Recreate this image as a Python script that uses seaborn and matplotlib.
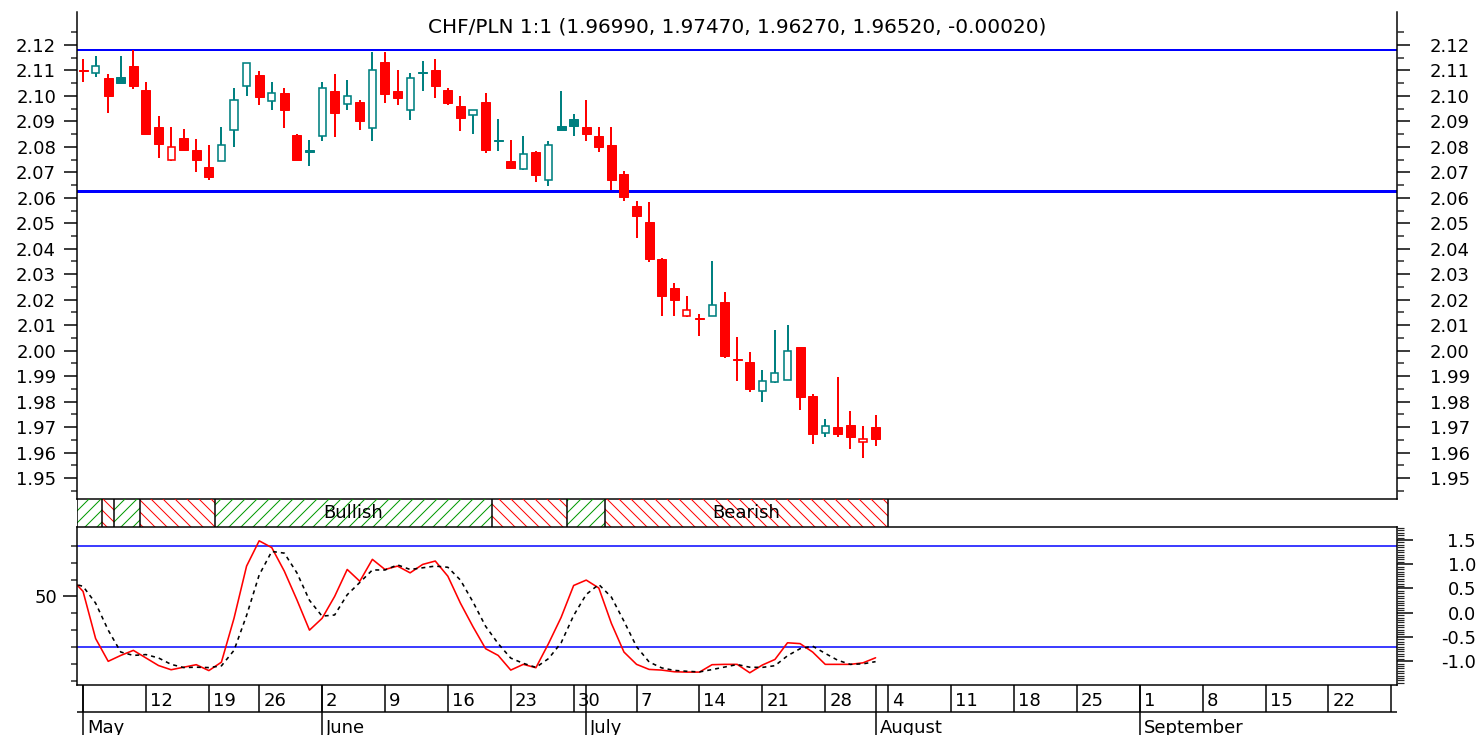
import numpy as np
import pandas as pd
import matplotlib
matplotlib.use("Agg")
import matplotlib.pyplot as plt
import matplotlib.ticker as mticker
from matplotlib.patches import Rectangle
from matplotlib.transforms import offset_copy
import seaborn as sns

# daily candles, day 0 = Monday 5 May (trading days only)
open_ = [2.1102, 2.1089, 2.1070, 2.1076, 2.1119, 2.1025, 2.0877, 2.0750, 2.0835, 2.0788,
         2.0722, 2.0746, 2.0866, 2.1040, 2.1083, 2.0981, 2.1010, 2.0848, 2.0786, 2.0844,
         2.1018, 2.0968, 2.0975, 2.0873, 2.1132, 2.1018, 2.0946, 2.1095, 2.1103, 2.1025,
         2.0962, 2.0926, 2.0977, 2.0826, 2.0746, 2.0713, 2.0781, 2.0671, 2.0881, 2.0909,
         2.0877, 2.0841, 2.0809, 2.0694, 2.0567, 2.0506, 2.0360, 2.0244, 2.0137, 2.0129,
         2.0137, 2.0190, 1.9966, 1.9954, 1.9843, 1.9876, 1.9886, 2.0013, 1.9821, 1.9677,
         1.9699, 1.9709, 1.9640, 1.9699]
high = [2.1145, 2.1158, 2.1086, 2.1158, 2.1180, 2.1056, 2.0922, 2.0877, 2.0870, 2.0831,
        2.0807, 2.0877, 2.1030, 2.1131, 2.1097, 2.1056, 2.1030, 2.0850, 2.0828, 2.1056,
        2.1086, 2.1064, 2.0984, 2.1171, 2.1171, 2.1103, 2.1090, 2.1136, 2.1145, 2.1030,
        2.0999, 2.0946, 2.1012, 2.0909, 2.0828, 2.0841, 2.0783, 2.0822, 2.1018, 2.0929,
        2.0984, 2.0877, 2.0877, 2.0707, 2.0586, 2.0582, 2.0362, 2.0264, 2.0216, 2.0144,
        2.0351, 2.0229, 2.0055, 1.9993, 1.9925, 2.0082, 2.0102, 2.0015, 1.9830, 1.9732,
        1.9895, 1.9764, 1.9706, 1.9747]
low = [2.1054, 2.1073, 2.0933, 2.1050, 2.1027, 2.0848, 2.0756, 2.0743, 2.0785, 2.0703,
       2.0670, 2.0744, 2.0798, 2.1001, 2.0966, 2.0946, 2.0873, 2.0747, 2.0726, 2.0824,
       2.0838, 2.0946, 2.0867, 2.0824, 2.0972, 2.0966, 2.0907, 2.1021, 2.0992, 2.0966,
       2.0864, 2.0851, 2.0776, 2.0785, 2.0715, 2.0711, 2.0663, 2.0645, 2.0863, 2.0844,
       2.0824, 2.0781, 2.0632, 2.0589, 2.0441, 2.0347, 2.0137, 2.0137, 2.0131, 2.0056,
       2.0135, 1.9973, 1.9882, 1.9836, 1.9797, 1.9874, 1.9884, 1.9768, 1.9633, 1.9660,
       1.9660, 1.9614, 1.9578, 1.9627]
close = [2.1098, 2.1116, 2.1001, 2.1050, 2.1040, 2.0851, 2.0811, 2.0801, 2.0789, 2.0750,
         2.0683, 2.0807, 2.0984, 2.1129, 2.0995, 2.1010, 2.0946, 2.0750, 2.0781, 2.1030,
         2.0933, 2.1001, 2.0900, 2.1103, 2.1008, 2.0992, 2.1069, 2.1091, 2.1040, 2.0972,
         2.0912, 2.0944, 2.0789, 2.0822, 2.0717, 2.0772, 2.0690, 2.0807, 2.0866, 2.0881,
         2.0851, 2.0798, 2.0671, 2.0602, 2.0527, 2.0360, 2.0213, 2.0199, 2.0161, 2.0126,
         2.0180, 1.9977, 1.9962, 1.9849, 1.9880, 1.9911, 1.9999, 1.9817, 1.9673, 1.9706,
         1.9673, 1.9660, 1.9654, 1.9652]
prev_close_start = 2.1105

# horizontal lines on the price panel
resistance = 2.1182
support = 2.0625

# stochastic, first value is the day before day 0
stoch_k = [61, 53, 25, 11.5, 15, 18, 13.5, 9, 6.5, 8, 9.5, 6, 11, 37, 68, 83, 79, 65, 48, 30,
           37, 50, 66, 59, 72, 66, 68, 64, 69, 71, 62, 46, 32, 19, 15, 6.3, 9.7, 7.7, 22, 37.5,
           56.5, 59.7, 55, 34, 17, 9.7, 6.7, 6.3, 5.3, 5.1, 5.1, 9.5, 9.7, 9.7, 4.7, 9.3, 12.6,
           22.5, 22, 17, 9.7, 9.7, 9.7, 10.6, 13.6]
stoch_d = [58, 56, 46, 30, 17, 15, 15.5, 13.5, 9.7, 7.8, 8, 7.8, 8.8, 18, 38.7, 62.7, 76.7,
           75.7, 64, 47.7, 38.3, 39, 51, 58.3, 65.7, 65.7, 68.7, 66, 67, 68, 67.3, 59.7, 46.7,
           32.3, 22, 13.4, 10.3, 7.9, 13.1, 22.4, 38.7, 51.2, 57.1, 49.6, 35.3, 20.2, 11.1, 7.6,
           6.1, 5.6, 5.2, 6.6, 8.1, 9.6, 8, 7.9, 8.9, 14.8, 19, 20.5, 16.2, 12.1, 9.7, 10, 11.3]
stoch_levels = [80, 20]

# trend band (edges in trading days)
band_edges = [-0.48, 1.5, 2.5, 4.5, 10.5, 32.5, 38.5, 41.5, 64.0]
band_trend = ["Bullish", "Bearish", "Bullish", "Bearish", "Bullish", "Bearish", "Bullish", "Bearish"]

# axis ticks
price_ticks = [1.95, 1.96, 1.97, 1.98, 1.99, 2.00, 2.01, 2.02, 2.03, 2.04, 2.05,
               2.06, 2.07, 2.08, 2.09, 2.10, 2.11, 2.12]
osc_right_ticks = [-1.0, -0.5, 0.0, 0.5, 1.0, 1.5]
week_start = [0, 5, 10, 14, 19, 24, 29, 34, 39, 44, 49, 54, 59, 64, 69, 74, 79, 84, 89, 94, 99, 104]
week_labels = ["", "12", "19", "26", "2", "9", "16", "23", "30", "7", "14", "21", "28",
               "4", "11", "18", "25", "1", "8", "15", "22", "29"]
month_start = [0, 19, 40, 63, 84]
month_labels = ["May", "June", "July", "August", "September"]

RED = "#FF0000"
TEAL = "#008080"
BLUE = "#0000FF"
GREEN = "#009900"

sns.set_theme(style="white")
plt.rcParams["font.family"] = ["DejaVu Sans"]
plt.rcParams["text.color"] = "black"
plt.rcParams["axes.unicode_minus"] = False
plt.rcParams["hatch.linewidth"] = 1.0

W, H, DPI = 1480, 735, 72
fig = plt.figure(figsize=(W / DPI, H / DPI), dpi=DPI, facecolor="white")


def px_axes(x0, y0, x1, y1):
    return fig.add_axes([x0 / W, 1 - y1 / H, (x1 - x0) / W, (y1 - y0) / H])


XLIM = (-0.48, 104.45)
FS = 18

### price panel
ax = px_axes(77, 12, 1397, 499)
ax.set_xlim(XLIM)
ax.set_ylim(1.94175, 2.13296)
ax.set_facecolor("white")

df = pd.DataFrame({"open": open_, "high": high, "low": low, "close": close})
df["day"] = np.arange(len(df))
df["prev"] = [prev_close_start] + close[:-1]
df["col"] = np.where(df["close"] >= df["prev"], TEAL, RED)
df["hollow"] = df["close"] > df["open"]
df["bottom"] = df[["open", "close"]].min(axis=1)
df["body"] = (df["close"] - df["open"]).abs()

ax.vlines(df["day"], df["low"], df["high"], colors=df["col"], lw=2, zorder=2)
filled = df[~df["hollow"]]
ax.bar(filled["day"], filled["body"], bottom=filled["bottom"], width=0.72,
       color=filled["col"], edgecolor=filled["col"], lw=1, zorder=3)
hol = df[df["hollow"]]
ax.bar(hol["day"], hol["body"], bottom=hol["bottom"], width=0.56,
       facecolor="white", edgecolor=hol["col"], lw=1.6, zorder=3)

ax.axhline(resistance, color=BLUE, lw=2, zorder=1)
ax.axhline(support, color=BLUE, lw=3, zorder=1)

title = "CHF/PLN 1:1 ({:.5f}, {:.5f}, {:.5f}, {:.5f}, {:.5f})".format(
    open_[-1], high[-1], low[-1], close[-1], close[-1] - close[-2])
ax.text(0.5, 1 - 15 / 487, title, transform=ax.transAxes, ha="center", va="center",
        fontsize=20, color="black")

minor_price = [1.945 + 0.005 * k for k in range(37)]
ax.set_xticks([])
ax.yaxis.set_major_locator(mticker.FixedLocator(price_ticks))
ax.yaxis.set_minor_locator(mticker.FixedLocator(minor_price))
ax.yaxis.set_major_formatter(mticker.FormatStrFormatter("%.2f"))
ax.tick_params(axis="y", which="major", left=True, length=13, width=1.5, pad=8,
               labelsize=FS, colors="black", direction="out")
ax.tick_params(axis="y", which="minor", left=True, length=6, width=1.5, direction="out")
for s in ["left", "right", "bottom"]:
    ax.spines[s].set_color("black")
    ax.spines[s].set_linewidth(1.5)
ax.spines["top"].set_visible(False)

axr = ax.twinx()
axr.set_ylim(ax.get_ylim())
axr.yaxis.set_major_locator(mticker.FixedLocator(price_ticks))
axr.yaxis.set_minor_locator(mticker.FixedLocator(minor_price))
axr.yaxis.set_major_formatter(mticker.FormatStrFormatter("%.2f"))
axr.tick_params(axis="y", which="major", right=True, length=13, width=1.5, pad=20,
                labelsize=FS, colors="black", direction="out")
axr.tick_params(axis="y", which="minor", right=True, length=7, width=1.5, direction="out")
for s in axr.spines.values():
    s.set_visible(False)

### trend band
axb = px_axes(77, 499, 1397, 527)
axb.set_xlim(XLIM)
axb.set_ylim(0, 1)
axb.axis("off")
for x0, x1, trend in zip(band_edges[:-1], band_edges[1:], band_trend):
    bull = trend == "Bullish"
    axb.add_patch(Rectangle((x0, 0), x1 - x0, 1, facecolor="none",
                            edgecolor=GREEN if bull else RED, lw=0,
                            hatch="//" if bull else "\\\\"))
    if x1 - x0 > 10:
        axb.text((x0 + x1) / 2, 0.5, trend, ha="center", va="center", fontsize=FS, color="black")
axb.vlines(band_edges, 0, 1, colors="black", lw=1.5)

### stochastic panel
axo = px_axes(77, 527, 1397, 685)
osc = pd.DataFrame({"day": np.arange(-1, len(stoch_k) - 1), "k": stoch_k, "d": stoch_d})
sns.lineplot(data=osc, x="day", y="k", ax=axo, color=RED, lw=1.6)
sns.lineplot(data=osc, x="day", y="d", ax=axo, color="black", lw=1.6, linestyle=(0, (2.5, 2.5)))
for lv in stoch_levels:
    axo.axhline(lv, color=BLUE, lw=1.5, zorder=1)
axo.set_xlim(XLIM)
axo.set_ylim(-2.55, 91.2)
axo.set_xlabel("")
axo.set_ylabel("")
axo.set_xticks([])
axo.yaxis.set_major_locator(mticker.FixedLocator([50]))
axo.yaxis.set_minor_locator(mticker.FixedLocator(list(range(0, 90, 10))))
axo.tick_params(axis="y", which="major", left=True, length=14, width=1.5, pad=6,
                labelsize=FS, colors="black", direction="out")
axo.tick_params(axis="y", which="minor", left=True, length=6, width=1.5, direction="out")
for s in axo.spines.values():
    s.set_color("black")
    s.set_linewidth(1.5)

axo_r = axo.twinx()
axo_r.set_ylim(-1.494, 1.77)
axo_r.yaxis.set_major_locator(mticker.FixedLocator(osc_right_ticks))
axo_r.yaxis.set_minor_locator(mticker.FixedLocator([-1.45 + 0.05 * k for k in range(65)]))
axo_r.yaxis.set_major_formatter(mticker.FormatStrFormatter("%.1f"))
axo_r.tick_params(axis="y", which="major", right=True, length=16, width=1.5, pad=63,
                  labelsize=FS, colors="black", direction="out")
axo_r.tick_params(axis="y", which="minor", right=True, length=7, width=1.2, direction="out")
plt.setp(axo_r.get_yticklabels(), ha="right")
for s in axo_r.spines.values():
    s.set_visible(False)

### date rows
axd = px_axes(77, 685, 1397, 735)
axd.set_xlim(XLIM)
axd.set_ylim(0, 1)
axd.axis("off")
row_sep = (735 - 712) / 50
axd.axhline(row_sep, color="black", lw=1.5)
axd.vlines(week_start, row_sep, 1, colors="black", lw=1.5)
axd.vlines(month_start, 0, 1, colors="black", lw=1.5)
shift = offset_copy(axd.transData, fig=fig, x=4, y=0, units="dots")
for x, lab in zip(week_start, week_labels):
    axd.text(x, 0.69, lab, transform=shift, ha="left", va="center", fontsize=FS,
             color="black", clip_on=True)
for x, lab in zip(month_start, month_labels):
    axd.text(x, 0.04, lab, transform=shift, ha="left", va="baseline", fontsize=FS,
             color="black", clip_on=True)

fig.savefig("out.png", dpi=DPI, facecolor="white")
